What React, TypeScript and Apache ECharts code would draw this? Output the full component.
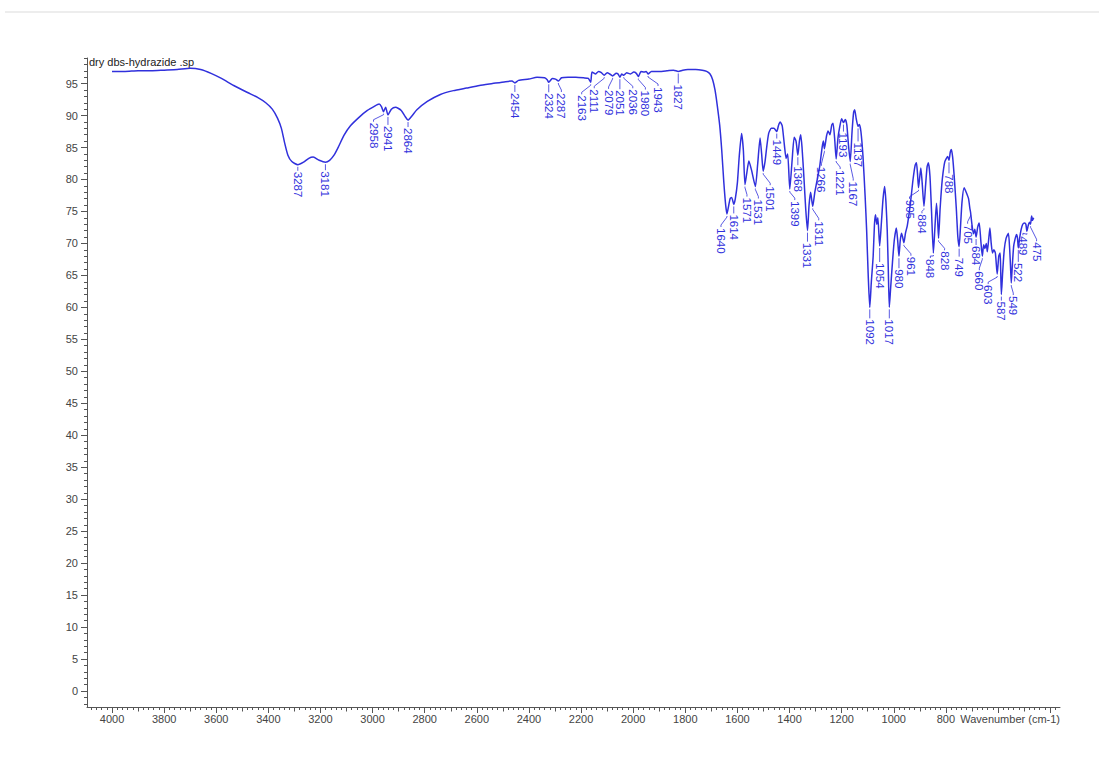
import React, { useEffect, useRef } from "react";
import * as echarts from "echarts";

// FT-IR transmittance spectrum: [wavenumber (cm-1), %T]
const spectrum: [number, number][] = [
  [4000, 96.9], [3950, 96.9], [3900, 97.0], [3850, 97.0], [3800, 97.1], [3750, 97.2],
  [3700, 97.4], [3660, 97.2], [3620, 96.6], [3580, 95.8], [3533, 94.7], [3480, 93.6],
  [3440, 92.8], [3410, 92.0], [3385, 91.0], [3365, 89.6], [3350, 88.0], [3338, 85.8],
  [3325, 83.8], [3310, 82.8], [3287, 82.3], [3265, 82.7], [3245, 83.3], [3228, 83.5],
  [3205, 83.0], [3181, 82.7], [3165, 83.0], [3148, 83.8], [3130, 85.2], [3110, 86.9],
  [3085, 88.4], [3050, 89.8], [3020, 90.8], [2995, 91.4], [2975, 91.8], [2966, 91.4],
  [2958, 90.6], [2950, 91.3], [2941, 90.1], [2928, 91.0], [2912, 91.3], [2890, 90.8],
  [2876, 89.9], [2864, 89.3], [2850, 89.9], [2830, 90.9], [2790, 92.2], [2740, 93.3],
  [2690, 93.9], [2640, 94.3], [2590, 94.7], [2540, 95.0], [2490, 95.3], [2465, 95.4],
  [2454, 95.1], [2440, 95.5], [2400, 95.7], [2369, 96.0], [2340, 95.9], [2330, 95.6],
  [2324, 95.2], [2310, 95.8], [2298, 95.7], [2287, 95.4], [2275, 95.9], [2250, 96.0],
  [2220, 96.0], [2190, 95.9], [2172, 95.8], [2163, 95.2], [2158, 96.8], [2145, 96.5],
  [2133, 96.9], [2122, 96.7], [2111, 96.3], [2100, 96.7], [2090, 96.5], [2079, 96.2],
  [2065, 96.6], [2058, 96.5], [2051, 96.0], [2044, 96.5], [2036, 96.3], [2025, 96.7],
  [2010, 96.5], [1998, 96.8], [1988, 96.6], [1980, 96.1], [1970, 96.9], [1958, 96.8],
  [1950, 96.9], [1943, 96.5], [1930, 96.9], [1900, 96.9], [1870, 97.0], [1845, 97.1],
  [1827, 96.9], [1810, 97.1], [1790, 97.2], [1760, 97.2], [1735, 97.1], [1718, 96.9],
  [1705, 96.5], [1695, 95.6], [1686, 94.0], [1678, 91.8], [1668, 88.5], [1660, 84.5],
  [1652, 79.5], [1645, 76.0], [1640, 74.6], [1634, 75.8], [1628, 77.0], [1622, 77.2],
  [1614, 76.1], [1608, 77.0], [1600, 79.5], [1593, 83.6], [1584, 87.2], [1577, 84.5],
  [1571, 79.2], [1564, 81.0], [1556, 82.9], [1546, 81.5], [1531, 78.9], [1522, 82.5],
  [1513, 86.5], [1507, 84.0], [1501, 81.3], [1494, 82.8], [1488, 84.9], [1480, 87.2],
  [1470, 88.0], [1460, 88.0], [1449, 87.5], [1442, 88.5], [1436, 89.0], [1428, 88.4],
  [1420, 85.5], [1413, 83.3], [1407, 84.0], [1399, 78.5], [1390, 83.0], [1382, 86.6],
  [1375, 86.0], [1368, 83.8], [1362, 86.0], [1357, 87.0], [1352, 85.0], [1345, 80.5],
  [1338, 75.5], [1331, 72.0], [1325, 76.0], [1319, 78.0], [1311, 75.8], [1303, 78.0],
  [1296, 79.5], [1284, 82.1], [1275, 85.0], [1270, 86.0], [1266, 84.8], [1258, 86.8],
  [1252, 87.6], [1245, 87.0], [1238, 88.5], [1233, 88.8], [1227, 86.5], [1221, 83.2],
  [1214, 86.5], [1207, 88.3], [1200, 89.5], [1193, 88.9], [1186, 89.4], [1180, 88.5],
  [1174, 85.5], [1167, 82.8], [1160, 87.5], [1154, 90.5], [1150, 90.9], [1144, 89.5],
  [1137, 88.3], [1132, 88.6], [1126, 87.5], [1118, 83.6], [1110, 77.5], [1104, 72.0],
  [1098, 65.0], [1092, 60.0], [1086, 64.0], [1079, 68.0], [1074, 73.0], [1070, 74.5],
  [1065, 73.0], [1061, 74.0], [1054, 69.6], [1047, 73.5], [1041, 77.0], [1035, 78.9],
  [1030, 76.5], [1025, 72.0], [1021, 66.0], [1017, 60.0], [1012, 63.0], [1005, 67.0],
  [998, 70.5], [990, 72.4], [985, 70.5], [980, 68.0], [975, 70.5], [970, 71.6],
  [966, 71.0], [961, 70.1], [955, 71.6], [948, 72.8], [940, 75.0], [933, 77.4],
  [926, 80.0], [918, 82.2], [913, 82.6], [909, 81.0], [905, 78.7], [900, 80.5],
  [896, 81.8], [891, 79.5], [884, 75.8], [878, 79.0], [872, 82.0], [867, 82.6],
  [861, 80.5], [855, 75.0], [848, 68.5], [842, 72.5], [836, 76.3], [832, 74.0],
  [828, 70.8], [822, 75.5], [816, 79.0], [811, 81.0], [804, 82.8], [798, 83.3],
  [793, 83.6], [788, 83.0], [783, 84.3], [779, 84.7], [774, 83.5], [768, 80.5],
  [760, 75.5], [754, 71.0], [749, 69.5], [744, 72.5], [738, 76.5], [730, 78.7],
  [722, 78.0], [713, 77.0], [708, 75.5], [705, 74.8], [700, 73.0], [694, 71.5],
  [689, 72.2], [684, 71.0], [678, 72.5], [672, 73.2], [666, 70.5], [660, 68.0],
  [655, 69.8], [650, 69.2], [645, 70.0], [641, 68.7], [636, 70.5], [631, 72.4],
  [626, 70.0], [621, 68.5], [616, 69.0], [610, 68.5], [603, 65.2], [597, 68.0],
  [592, 68.5], [590, 66.5], [587, 62.0], [582, 65.5], [576, 69.0], [569, 70.8],
  [560, 71.6], [555, 69.0], [552, 66.5], [549, 63.8], [545, 66.5], [540, 69.5],
  [535, 70.6], [529, 71.4], [525, 70.8], [522, 69.3], [517, 70.8], [511, 72.2],
  [505, 73.0], [498, 73.2], [493, 73.0], [489, 71.9], [484, 72.8], [479, 73.3],
  [475, 73.0], [471, 74.3], [467, 73.6], [463, 74.0],
];

// Peak positions annotated on the trace (cm-1)
const peakLabels = [
  3287, 3181, 2958, 2941, 2864, 2454, 2324, 2287, 2163, 2111, 2079, 2051, 2036, 1980,
  1943, 1827, 1640, 1614, 1571, 1531, 1501, 1449, 1399, 1368, 1331, 1311, 1266, 1221,
  1193, 1167, 1137, 1092, 1054, 1017, 980, 961, 905, 884, 848, 828, 788, 749, 705, 684,
  660, 603, 587, 549, 522, 489, 475,
];

const xTickLabels = [4000, 3800, 3600, 3400, 3200, 3000, 2800, 2600, 2400, 2200, 2000, 1800, 1600, 1400, 1200, 1000, 800];
const yTickLabels = [0, 5, 10, 15, 20, 25, 30, 35, 40, 45, 50, 55, 60, 65, 70, 75, 80, 85, 90, 95];

const sampleName = "dry dbs-hydrazide .sp";
const xAxisTitle = "Wavenumber (cm-1)";

// Label placement: [horizontal shift px, drop below peak px]
const labelLayout: Record<number, [number, number]> = {
  3287: [0, 7], 3181: [0, 9], 2958: [-10, 11], 2941: [0, 11], 2864: [0, 8],
  2454: [0, 10], 2324: [0, 11], 2287: [3, 12], 2163: [-9, 13], 2111: [-10, 14],
  2079: [-4, 14], 2051: [0, 13], 2036: [9, 14], 1980: [7, 14], 1943: [10, 13],
  1827: [0, 13], 1640: [-6, 14], 1614: [0, 10], 1571: [2, 13], 1531: [3, 13],
  1501: [7, 15], 1449: [0, 8], 1399: [5, 12], 1368: [0, 11], 1331: [0, 12],
  1311: [6, 15], 1266: [-3, 18], 1221: [4, 11], 1193: [0, 10], 1167: [3, 20],
  1137: [0, 16], 1092: [0, 12], 1054: [0, 17], 1017: [0, 12], 980: [0, 13],
  961: [7, 14], 905: [-9, 12], 884: [-2, 8], 848: [-3, 6], 828: [6, 13],
  788: [0, 14], 749: [0, 11], 705: [-3, 12], 684: [0, 9], 660: [-3, 15],
  603: [-9, 11], 587: [0, 7], 549: [2, 13], 522: [0, 15], 489: [-4, 5], 475: [6, 18],
};

const TRACE = "#3030dc";
const AXIS = "#555";
const FONT = "'Liberation Sans', Arial, Helvetica, sans-serif";
const X_MIN = 362;
const X_MAX = 4096;
const Y_MIN = -2.5;
const Y_MAX = 99;

function steps(start: number, end: number, step: number): number[] {
  const out: number[] = [];
  for (let v = start; v <= end + 1e-9; v += step) out.push(Math.round(v * 1000) / 1000);
  return out;
}

function transmittanceAt(wn: number): number {
  const hit = spectrum.find((p) => p[0] === wn);
  return hit ? hit[1] : NaN;
}

export default function App() {
  const ref = useRef<HTMLDivElement>(null);

  useEffect(() => {
    if (!ref.current) return;
    const chart = echarts.init(ref.current, undefined, { renderer: "svg" });

    const xBase = {
      type: "value" as const,
      inverse: true,
      min: X_MIN,
      max: X_MAX,
      position: "bottom" as const,
      splitLine: { show: false },
    };
    const yBase = {
      type: "value" as const,
      min: Y_MIN,
      max: Y_MAX,
      position: "left" as const,
      splitLine: { show: false },
    };

    chart.setOption({
      animation: false,
      backgroundColor: "#ffffff",
      grid: { left: 87, right: 39, top: 58, bottom: 52, containLabel: false },
      xAxis: [
        {
          ...xBase,
          axisLine: { show: true, onZero: false, lineStyle: { color: AXIS, width: 1 } },
          axisTick: { show: true, customValues: steps(400, 4000, 200), length: 6, lineStyle: { color: AXIS } },
          axisLabel: {
            show: true,
            customValues: xTickLabels,
            formatter: (v: number) => String(v),
            margin: 6,
            color: "#444",
            fontSize: 11,
            fontFamily: FONT,
          },
        },
        {
          ...xBase,
          axisLine: { show: false, onZero: false },
          axisTick: { show: true, customValues: steps(400, 4000, 100), length: 4.5, lineStyle: { color: AXIS } },
          axisLabel: { show: false },
        },
        {
          ...xBase,
          axisLine: { show: false, onZero: false },
          axisTick: { show: true, customValues: steps(380, 4080, 20), length: 3, lineStyle: { color: AXIS } },
          axisLabel: { show: false },
        },
      ],
      yAxis: [
        {
          ...yBase,
          axisLine: { show: true, onZero: false, lineStyle: { color: AXIS, width: 1 } },
          axisTick: { show: true, customValues: yTickLabels, length: 6, lineStyle: { color: AXIS } },
          axisLabel: {
            show: true,
            customValues: yTickLabels,
            formatter: (v: number) => String(v),
            margin: 9,
            color: "#444",
            fontSize: 11,
            fontFamily: FONT,
          },
        },
        {
          ...yBase,
          axisLine: { show: false, onZero: false },
          axisTick: { show: true, customValues: steps(-2, 99, 1), length: 3, lineStyle: { color: AXIS } },
          axisLabel: { show: false },
        },
      ],
      graphic: [
        {
          type: "rect",
          shape: { x: 5, y: 11, width: 1094, height: 2 },
          style: { fill: "#ededed" },
          silent: true,
        },
        {
          type: "text",
          left: 89,
          top: 56,
          style: { text: sampleName, fill: "#222", font: `11px ${FONT}` },
          silent: true,
        },
        {
          type: "text",
          right: 39,
          top: 713,
          style: { text: xAxisTitle, fill: "#444", font: `11px ${FONT}` },
          silent: true,
        },
      ],
      series: [
        {
          type: "line",
          xAxisIndex: 0,
          yAxisIndex: 0,
          data: spectrum,
          showSymbol: false,
          smooth: 0.2,
          lineStyle: { color: TRACE, width: 1.5 },
          silent: true,
          z: 2,
        },
        {
          type: "custom",
          coordinateSystem: "cartesian2d",
          xAxisIndex: 0,
          yAxisIndex: 0,
          clip: false,
          silent: true,
          z: 3,
          data: peakLabels.map((wn) => [wn, transmittanceAt(wn)]),
          renderItem: (_params: any, api: any) => {
            const wn = api.value(0) as number;
            const t = api.value(1) as number;
            const [px, py] = api.coord([wn, t]);
            const [dx, gap] = labelLayout[wn] ?? [0, 10];
            const top = py + gap;
            const tx = px + dx;
            const pts =
              dx === 0
                ? [[px, py + 2], [px, top - 1]]
                : [[px, py + 2], [px, py + 3], [tx, top - 3], [tx, top - 1]];
            return {
              type: "group",
              children: [
                {
                  type: "polyline",
                  shape: { points: pts },
                  style: { stroke: TRACE, lineWidth: 0.8, fill: null },
                },
                {
                  type: "text",
                  x: tx,
                  y: top,
                  rotation: -Math.PI / 2,
                  style: {
                    text: String(wn),
                    fill: TRACE,
                    font: `11.5px ${FONT}`,
                    align: "left",
                    verticalAlign: "middle",
                  },
                },
              ],
            };
          },
        },
      ],
    });

    return () => chart.dispose();
  }, []);

  return (
    <div
      ref={ref}
      style={{ position: "absolute", left: 0, top: 0, width: 1099, height: 759, background: "#fff" }}
    />
  );
}
